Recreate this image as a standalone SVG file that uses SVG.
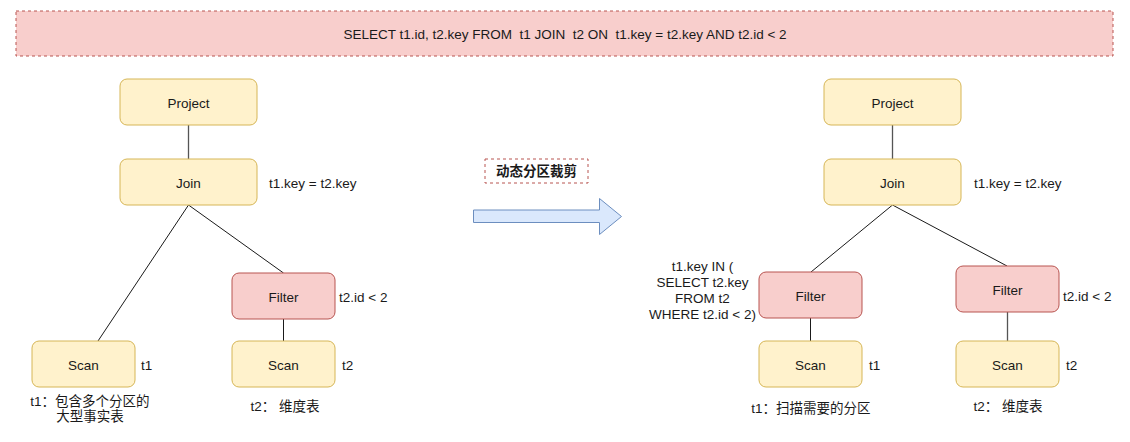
<svg xmlns="http://www.w3.org/2000/svg" width="1130" height="442" viewBox="0 0 1130 442">
<style>
text{font-family:"Liberation Sans","Noto Sans CJK SC",Arial,sans-serif;font-size:13.5px;fill:#1a1a1a;white-space:pre}
.c{text-anchor:middle;dominant-baseline:central}
.l{dominant-baseline:central}
.y{fill:#fff2cc;stroke:#d6b656;stroke-width:1}
.r{fill:#f8cecc;stroke:#b85450;stroke-width:1}
.e{stroke:#1a1a1a;stroke-width:1;fill:none}
.g{stroke:#555;stroke-width:1.3;fill:none}
</style>
<rect x="16" y="11" width="1097" height="45" fill="#f8cecc" stroke="#b85450" stroke-dasharray="3 3"/>
<text class="c" x="565" y="34" xml:space="preserve">SELECT t1.id, t2.key FROM  t1 JOIN  t2 ON  t1.key = t2.key AND t2.id &lt; 2</text>
<g id="connectors">
<line class="g" x1="188.5" y1="125" x2="188.5" y2="159"/>
<line class="e" x1="188.5" y1="205" x2="98" y2="341"/>
<line class="e" x1="188.5" y1="205" x2="283.5" y2="273"/>
<line class="e" x1="283.5" y1="319" x2="283.5" y2="341"/>
<line class="g" x1="892.5" y1="125" x2="892.5" y2="159"/>
<line class="e" x1="892.5" y1="205" x2="811" y2="272"/>
<line class="e" x1="892.5" y1="205" x2="1007" y2="266"/>
<line class="e" x1="810.5" y1="318" x2="810.5" y2="341"/>
<line class="g" x1="1007.5" y1="312" x2="1007.5" y2="341"/>
</g>
<g id="l-project"><rect class="y" x="120" y="79" width="137" height="46" rx="7"/><text class="c" x="188.5" y="103">Project</text></g>
<g id="l-join"><rect class="y" x="120" y="159" width="137" height="46" rx="7"/><text class="c" x="188.5" y="183">Join</text><text class="l" x="269" y="183">t1.key = t2.key</text></g>
<g id="l-filter"><rect class="r" x="232" y="273" width="103" height="46" rx="7"/><text class="c" x="283.5" y="297">Filter</text><text class="l" x="339" y="297">t2.id &lt; 2</text></g>
<g id="l-scan1"><rect class="y" x="32" y="341" width="103" height="46" rx="7"/><text class="c" x="83.5" y="365">Scan</text><text class="l" x="141" y="365">t1</text>
<text class="c" x="90" y="401">t1：包含多个分区的</text><text class="c" x="90" y="416">大型事实表</text></g>
<g id="l-scan2"><rect class="y" x="232" y="341" width="103" height="46" rx="7"/><text class="c" x="283.5" y="365">Scan</text><text class="l" x="342" y="365">t2</text>
<text class="c" x="285" y="406" xml:space="preserve">t2： 维度表</text></g>
<g id="label-dpp"><rect x="485" y="159" width="103" height="24" fill="#fff" stroke="#b85450" stroke-dasharray="3 3"/><text class="c" x="536.5" y="171" style="font-weight:bold">动态分区裁剪</text></g>
<g id="arrow"><path d="M473.5 210 H599.5 V198.5 L621.5 216.5 L599.5 234.5 V222.5 H473.5 Z" fill="#dae8fc" stroke="#6c8ebf"/></g>
<g id="r-project"><rect class="y" x="824" y="79" width="137" height="46" rx="7"/><text class="c" x="892.5" y="103">Project</text></g>
<g id="r-join"><rect class="y" x="824" y="159" width="137" height="46" rx="7"/><text class="c" x="892.5" y="183">Join</text><text class="l" x="974" y="183">t1.key = t2.key</text></g>
<g id="r-filter1"><rect class="r" x="759" y="272" width="103" height="46" rx="7"/><text class="c" x="810.5" y="296">Filter</text>
<text class="c" x="702.5" y="266">t1.key IN (</text><text class="c" x="702.5" y="282">SELECT t2.key</text><text class="c" x="702.5" y="298">FROM t2</text><text class="c" x="702.5" y="314">WHERE t2.id &lt; 2)</text></g>
<g id="r-scan1"><rect class="y" x="759" y="341" width="103" height="46" rx="7"/><text class="c" x="810.5" y="365">Scan</text><text class="l" x="869" y="365">t1</text>
<text class="c" x="811" y="408">t1：扫描需要的分区</text></g>
<g id="r-filter2"><rect class="r" x="956" y="266" width="103" height="46" rx="7"/><text class="c" x="1007.5" y="290">Filter</text><text class="l" x="1063" y="296">t2.id &lt; 2</text></g>
<g id="r-scan2"><rect class="y" x="956" y="341" width="103" height="46" rx="7"/><text class="c" x="1007.5" y="365">Scan</text><text class="l" x="1066" y="365">t2</text>
<text class="c" x="1008" y="406" xml:space="preserve">t2： 维度表</text></g>
</svg>
